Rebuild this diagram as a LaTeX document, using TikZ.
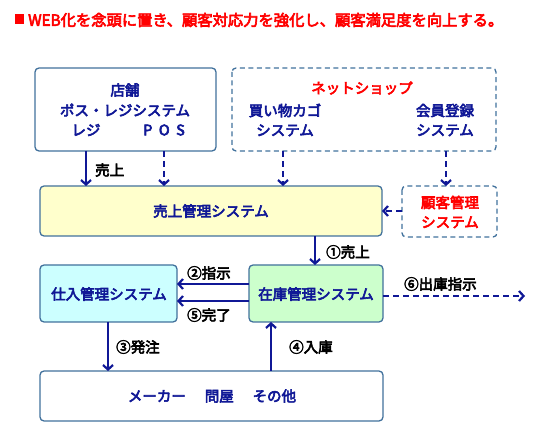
\documentclass[tikz,border=0pt]{standalone}
\usepackage{fontspec}
\setmainfont{Noto Sans CJK JP}[FakeBold=4,UprightFeatures={FakeBold=4}]
\usetikzlibrary{arrows.meta}
\definecolor{bd}{RGB}{65,113,156}
\definecolor{nv}{RGB}{16,24,150}
\definecolor{rd}{RGB}{255,0,0}
\definecolor{ylw}{RGB}{255,255,204}
\definecolor{cyn}{RGB}{204,255,255}
\definecolor{grn}{RGB}{204,255,204}
\tikzset{
  box/.style={draw=bd, line width=1.3pt, rounded corners=4pt},
  dbox/.style={box, dash pattern=on 5pt off 3.5pt},
  bt/.style={text=nv, font=\fontsize{14.5}{19.5}\selectfont, inner sep=0pt, align=center},
  rt/.style={bt, text=rd},
  lb/.style={text=black, font=\fontsize{14.5}{17}\selectfont, inner sep=0pt},
  arr/.style={draw=nv, line width=2.2pt, -{Straight Barb[length=4.5pt,width=10pt,line width=2.2pt]}},
  darr/.style={arr, dash pattern=on 6pt off 4pt},
}
\begin{document}
\begin{tikzpicture}[x=1pt,y=-1pt]
\useasboundingbox (0,0) rectangle (558,433);
% title
\fill[rd] (15,14) rectangle (24,24);
\node[anchor=west, text=rd, font=\fontsize{15.3}{18}\selectfont, inner sep=0pt] (title) at (28,20) {WEB化を念頭に置き、顧客対応力を強化し、顧客満足度を向上する。};
% boxes
\draw[box, fill=white] (35,68) rectangle (216,151);
\draw[dbox] (232,68) rectangle (496,151);
\draw[box, fill=ylw] (40,186) rectangle (382,236);
\draw[dbox] (402,186) rectangle (497,237);
\draw[box, fill=cyn] (40,265) rectangle (177,322);
\draw[box, fill=grn] (249,265) rectangle (383,322);
\draw[box, fill=white] (40,371) rectangle (383,421);
% box texts
\node[bt] (tenpo) at (125,90) {店舗};
\node[bt] (posreg) at (125,110) {ポス・レジシステム};
\node[bt] (reji) at (86,130) {レジ};
\node[bt] (pos) at (164,130) {P\hspace{0.45em}O\hspace{0.45em}S};
\node[rt] (net) at (362,88) {ネットショップ};
\node[bt] (kago) at (285,120) {買い物カゴ\\システム};
\node[bt] (kaiin) at (445,120) {会員登録\\システム};
\node[rt] (kokyaku) at (450,212) {顧客管理\\システム};
\node[bt] (uriage) at (211,211) {売上管理システム};
\node[bt] (shiire) at (109,294) {仕入管理システム};
\node[bt] (zaiko) at (316,294) {在庫管理システム};
\node[bt] (maker) at (212,396) {メーカー\hspace{1.3em}問屋\hspace{1.3em}その他};
% coordinates
\coordinate (a1s) at (86,151); \coordinate (a1e) at (86,186);
\coordinate (a2s) at (164,151); \coordinate (a2e) at (164,186);
\coordinate (a3s) at (283,151); \coordinate (a3e) at (283,186);
\coordinate (a4s) at (446,151); \coordinate (a4e) at (446,186);
\coordinate (a5s) at (402,211); \coordinate (a5e) at (382,211);
\coordinate (a6s) at (315,236); \coordinate (a6e) at (315,265);
\coordinate (a7s) at (249,284); \coordinate (a7e) at (177,284);
\coordinate (a8s) at (249,301); \coordinate (a8e) at (177,301);
\coordinate (a9s) at (108,322); \coordinate (a9e) at (108,371);
\coordinate (a10s) at (271,371); \coordinate (a10e) at (271,322);
\coordinate (a11s) at (383,296); \coordinate (a11e) at (525,296);
% arrows
\draw[arr] (a1s) -- (a1e);
\draw[darr] (a2s) -- (a2e);
\draw[darr] (a3s) -- (a3e);
\draw[darr] (a4s) -- (a4e);
\draw[darr] (a5s) -- (a5e);
\draw[arr] (a6s) -- (a6e);
\draw[arr] (a7s) -- (a7e);
\draw[arr] (a8s) -- (a8e);
\draw[arr] (a9s) -- (a9e);
\draw[arr] (a10s) -- (a10e);
\draw[darr] (a11s) -- (a11e);
% labels
\node[lb, anchor=west] (l0) at (95,170) {売上};
\node[lb, anchor=west] (l1) at (326,252) {①売上};
\node[lb, anchor=west] (l2) at (187,273) {②指示};
\node[lb, anchor=west] (l5) at (187,315) {⑤完了};
\node[lb, anchor=west] (l3) at (116,347) {③発注};
\node[lb, anchor=west] (l4) at (289,347) {④入庫};
\node[lb, anchor=west] (l6) at (404,284) {⑥出庫指示};
\end{tikzpicture}
\end{document}
